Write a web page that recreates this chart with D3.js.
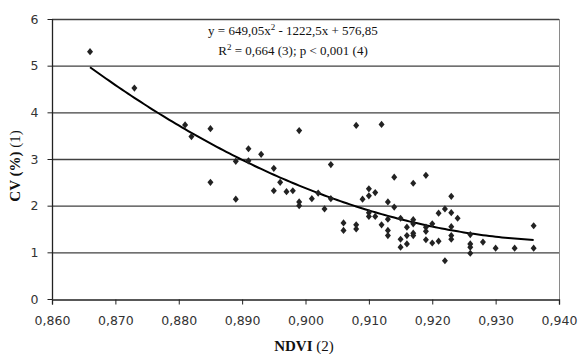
<!DOCTYPE html>
<html><head><meta charset="utf-8">
<script src="https://cdn.jsdelivr.net/npm/d3@7"></script>
<style>body{margin:0;background:#fff}svg{display:block}</style>
</head><body>
<svg id="c" width="579" height="354"></svg>
<script>
const ndvi = [0.866,0.873,0.881,0.882,0.885,0.885,0.889,0.889,0.891,0.891,0.893,0.895,0.895,0.896,0.897,0.898,0.899,0.899,0.899,0.901,0.902,0.903,0.904,0.904,0.906,0.906,0.908,0.908,0.908,0.909,0.910,0.910,0.910,0.910,0.911,0.911,0.912,0.912,0.913,0.913,0.913,0.913,0.914,0.914,0.915,0.915,0.915,0.916,0.916,0.916,0.917,0.917,0.917,0.917,0.917,0.919,0.919,0.919,0.919,0.920,0.920,0.921,0.921,0.922,0.922,0.923,0.923,0.923,0.923,0.923,0.924,0.926,0.926,0.926,0.926,0.928,0.930,0.933,0.936,0.936];
const cv = [5.30,4.52,3.73,3.48,3.65,2.50,2.95,2.14,3.22,2.96,3.10,2.80,2.32,2.50,2.30,2.32,3.61,2.08,2.00,2.15,2.27,1.93,2.88,2.15,1.63,1.47,3.72,1.59,1.50,2.14,2.36,2.21,1.85,1.77,2.28,1.77,3.74,1.59,2.08,1.71,1.47,1.36,2.61,1.97,1.73,1.28,1.11,1.54,1.36,1.18,2.48,1.70,1.61,1.41,1.36,2.65,1.54,1.45,1.27,1.61,1.20,1.84,1.24,1.93,0.82,2.20,1.85,1.55,1.36,1.28,1.73,1.38,1.18,1.11,0.98,1.22,1.09,1.09,1.57,1.09];
const xTicks = [0.86,0.87,0.88,0.89,0.90,0.91,0.92,0.93,0.94];
const yTicks = [0,1,2,3,4,5,6];
const trendCoef = [649.05,-1222.45,576.85];
const trendRange = [0.866,0.936];
const eqLine1 = "y = 649,05x";
const eqLine1b = " - 1222,5x + 576,85";
const eqLine2 = "R";
const eqLine2b = " = 0,664 (3); p < 0,001 (4)";

const svg = d3.select("#c");
const L=52, R=559, T=19, B=299;
const x = d3.scaleLinear().domain([0.86,0.94]).range([L,R]);
const y = d3.scaleLinear().domain([0,6]).range([B,T]);
const fmtX = d => d3.format(".3f")(d).replace(".",",");

// gridlines
svg.append("g").selectAll("line").data(yTicks.filter(d=>d>0)).join("line")
  .attr("x1",L).attr("x2",R).attr("y1",d=>y(d)+0.5).attr("y2",d=>y(d)+0.5)
  .attr("stroke","#404040").attr("stroke-width",1.3);
// right border
svg.append("line").attr("x1",R+0.5).attr("x2",R+0.5).attr("y1",T).attr("y2",B)
  .attr("stroke","#8a8a8a").attr("stroke-width",1);

// axes
const xa = svg.append("g").attr("transform",`translate(0,${B+0.5})`)
  .call(d3.axisBottom(x).tickValues(xTicks).tickFormat(fmtX).tickSizeOuter(0).tickSize(5).tickPadding(12));
const ya = svg.append("g").attr("transform",`translate(${L+0.5},0)`)
  .call(d3.axisLeft(y).tickValues(yTicks).tickFormat(d=>d).tickSizeOuter(0).tickSize(5).tickPadding(9));
[xa,ya].forEach(g=>{
  g.select(".domain").attr("stroke","#222").attr("stroke-width",1.3);
  g.selectAll(".tick line").attr("stroke","#222");
  g.selectAll("text").attr("fill","#333").style("font-family","DejaVu Sans").style("font-size","12.5px");
});
ya.select(".domain").attr("d",`M0,${T}V${B}`);

// trend
const tx = d3.range(trendRange[0], trendRange[1]+1e-9, 0.0005);
const line = d3.line().x(d=>x(d)).y(d=>y(trendCoef[0]*d*d+trendCoef[1]*d+trendCoef[2]));
svg.append("path").datum(tx).attr("d",line).attr("fill","none").attr("stroke","#000").attr("stroke-width",2);

// points
svg.append("g").selectAll("path").data(ndvi.map((d,i)=>[d,cv[i]])).join("path")
  .attr("transform",d=>`translate(${x(d[0])},${y(d[1])})`)
  .attr("d","M0,-3.6L3,0L0,3.6L-3,0Z").attr("fill","#222");

// equation
const eq = svg.append("text").attr("x",293).attr("y",35).attr("text-anchor","middle")
  .style("font-family","Liberation Serif").style("font-size","13px").attr("fill","#111");
eq.append("tspan").text(eqLine1);
eq.append("tspan").text("2").attr("dy",-5).style("font-size","9px");
eq.append("tspan").text(eqLine1b).attr("dy",5);
const eq2 = svg.append("text").attr("x",293).attr("y",55).attr("text-anchor","middle")
  .style("font-family","Liberation Serif").style("font-size","13px").attr("fill","#111");
eq2.append("tspan").text(eqLine2);
eq2.append("tspan").text("2").attr("dy",-5).style("font-size","9px");
eq2.append("tspan").text(eqLine2b).attr("dy",5);

// axis titles
const xt = svg.append("text").attr("x",304).attr("y",351).attr("text-anchor","middle")
  .style("font-family","Liberation Serif").style("font-size","15px").attr("fill","#111");
xt.append("tspan").text("NDVI").style("font-weight","bold");
xt.append("tspan").text(" (2)");
const yt = svg.append("text").attr("transform","translate(20,166) rotate(-90)").attr("text-anchor","middle")
  .style("font-family","Liberation Serif").style("font-size","15px").attr("fill","#111");
yt.append("tspan").text("CV (%)").style("font-weight","bold");
yt.append("tspan").text(" (1)");
</script>
</body></html>
